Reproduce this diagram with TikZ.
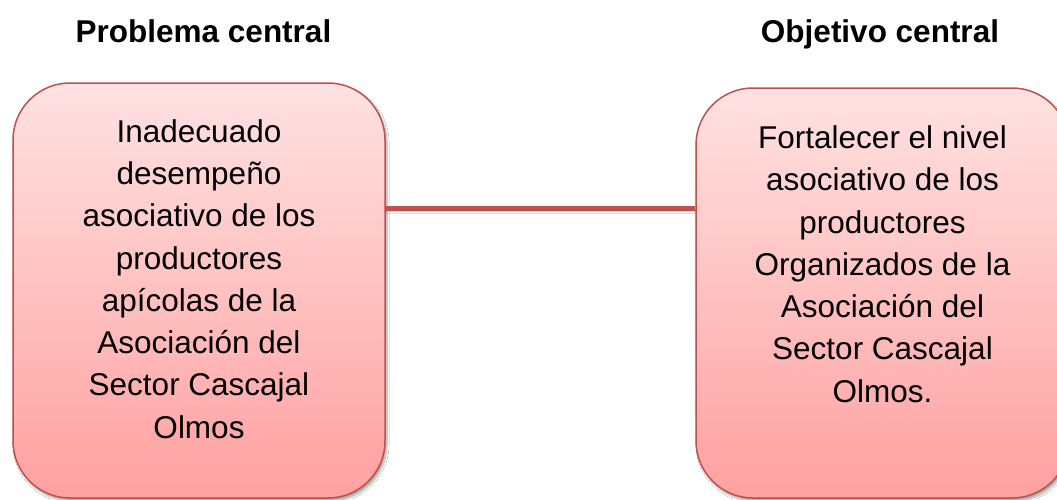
\documentclass[tikz,border=0pt]{standalone}
\usepackage{fontspec}
\setmainfont{Liberation Sans}
\usetikzlibrary{shadows.blur}
\definecolor{boxborder}{HTML}{C0504D}
\definecolor{boxtop}{HTML}{FFE2E2}
\definecolor{boxbottom}{HTML}{FFA0A0}
\tikzset{
  redbox/.style={draw=boxborder, line width=1.5pt, rounded corners=57pt,
    top color=boxtop, bottom color=boxbottom, inner sep=0pt,
    blur shadow={shadow blur steps=6, shadow xshift=2pt, shadow yshift=-3pt, shadow opacity=35}},
  title/.style={font=\fontsize{31.5}{38}\selectfont\bfseries, anchor=base, inner sep=0pt},
  body/.style={font=\fontsize{31.5}{42.3}\selectfont, align=center, anchor=north, inner sep=0pt},
  link/.style={draw=boxborder, line width=5pt,
    blur shadow={shadow blur steps=4, shadow xshift=0pt, shadow yshift=-3pt, shadow opacity=30}}
}
\begin{document}
\begin{tikzpicture}[x=1pt,y=-1pt]
\useasboundingbox (0,0) rectangle (1057,499);
\clip (0,0) rectangle (1057,499);
\fill[white] (0,0) rectangle (1057,499);
\node[redbox, minimum width=372pt, minimum height=415pt] (L) at (199,290.5) {};
\node[redbox, minimum width=373pt, minimum height=410pt] (R) at (882.5,293) {};
\coordinate (m) at (0,208);
\draw[link] (L.east |- m) -- (R.west |- m);
\node[title] (tl) at (203.5,42) {Problema central};
\node[title] (tr) at (880,42) {Objetivo central};
\node[body] (bl) at (199,119.1) {Inadecuado\\desempeño\\asociativo de los\\productores\\apícolas de la\\Asociación del\\Sector Cascajal\\Olmos};
\node[body] (br) at (882.5,125.4) {Fortalecer el nivel\\asociativo de los\\productores\\Organizados de la\\Asociación del\\Sector Cascajal\\Olmos.};
\end{tikzpicture}
\end{document}
